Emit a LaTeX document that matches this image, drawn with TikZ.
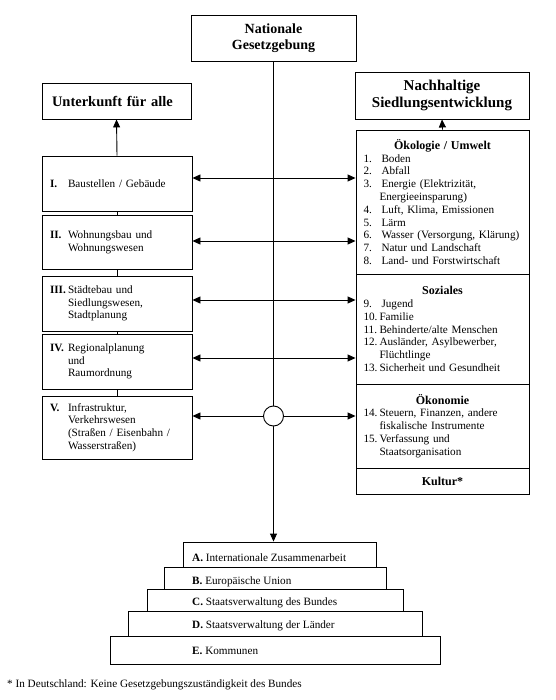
\documentclass[tikz,border=0pt]{standalone}
\usepackage{fontspec}
\setmainfont{Liberation Serif}
\usetikzlibrary{arrows.meta,calc}

\tikzset{
  kasten/.style={draw, line width=0.9pt, inner sep=0pt},
  titel/.style={font=\fontsize{14}{16.5}\selectfont\bfseries, align=center},
  linkskasten/.style={kasten, minimum width=150, text width=134, inner xsep=8, align=left},
  rechtskasten/.style={kasten, minimum width=173, text width=158, inner xsep=7.5, align=left},
  stufe/.style={kasten},
  pfeil/.style={line width=0.9pt, -{Triangle[length=8pt,width=7pt]}},
  doppelpfeil/.style={line width=0.9pt, {Triangle[length=8pt,width=7pt]}-{Triangle[length=8pt,width=7pt]}},
}
\newcommand{\rn}[1]{\makebox[18pt][l]{\textbf{#1}}}
\newcommand{\nr}[2]{\mbox{\makebox[18pt][l]{#1}#2}}
\newcommand{\nrr}[2]{\mbox{\makebox[16pt][l]{#1}#2}}
\newcommand{\kopf}[1]{\makebox[158pt][c]{\fontsize{12}{12.8}\selectfont\bfseries #1}}

\begin{document}
\begin{tikzpicture}[x=1pt, y=-1pt, font=\fontsize{11.2}{12.8}\selectfont]
    \useasboundingbox (0,0) rectangle (555,700);

    % Top box
    \node[kasten, titel, minimum width=165, minimum height=46] (natges) at (273.5,38) {Nationale\\Gesetzgebung};

    % Goals
    \node[kasten, titel, minimum width=149, minimum height=36, text width=129, inner xsep=10, align=left,
          font=\fontsize{14.5}{16.5}\selectfont\bfseries] (unterkunft) at (116.5,101) {Unterkunft für alle};
    \node[kasten, titel, minimum width=174, minimum height=47,
          font=\fontsize{15}{17}\selectfont\bfseries] (nachhaltig) at (442,95.5) {Nachhaltige\\Siedlungsentwicklung};

    % Left column
    \node[linkskasten, minimum height=55] (bI) at (117,183.5) {\rn{I.}Baustellen / Gebäude};
    \node[linkskasten, minimum height=54] (bII) at (117,242) {\rn{II.}Wohnungsbau und\\\hspace*{18pt}Wohnungswesen};
    \node[linkskasten, minimum height=55] (bIII) at (117,303.5) {\rn{III.}Städtebau und\\\hspace*{18pt}Siedlungswesen,\\\hspace*{18pt}Stadtplanung};
    \node[linkskasten, minimum height=55] (bIV) at (117,361.5) {\rn{IV.}Regionalplanung\\\hspace*{18pt}und\\\hspace*{18pt}Raumordnung};
    \node[linkskasten, minimum height=63] (bV) at (117,427.5) {\rn{V.}Infrastruktur,\\\hspace*{18pt}Verkehrswesen\\\hspace*{18pt}(Straßen / Eisenbahn /\\\hspace*{18pt}Wasserstraßen)};

    \draw[line width=0.9pt] (bI.south) -- (bII.north);
    \draw[line width=0.9pt] (bII.south) -- (bIII.north);
    \draw[line width=0.9pt] (bIII.south) -- (bIV.north);
    \draw[line width=0.9pt] (bIV.south) -- (bV.north);
    \draw[pfeil] (bI.north) -- (unterkunft.south);

    % Right column
    \node[rechtskasten, minimum height=144] (oeko) at (442.5,202) {\kopf{Ökologie / Umwelt}\\
        \nr{1.}{Boden}\\
        \nr{2.}{Abfall}\\
        \nr{3.}{Energie (Elektrizität,}\\
        \hspace*{16pt}Energieeinsparung)\\
        \nr{4.}{Luft, Klima, Emissionen}\\
        \nr{5.}{Lärm}\\
        \nr{6.}{Wasser (Versorgung, Klärung)}\\
        \nr{7.}{Natur und Landschaft}\\
        \nr{8.}{Land- und Forstwirtschaft}};
    \node[rechtskasten, minimum height=110] (soz) at (442.5,329) {\kopf{Soziales}\\
        \nr{9.}{Jugend}\\
        \nrr{10.}{Familie}\\
        \nrr{11.}{Behinderte/alte Menschen}\\
        \nrr{12.}{Ausländer, Asylbewerber,}\\
        \hspace*{16pt}Flüchtlinge\\
        \nrr{13.}{Sicherheit und Gesundheit}};
    \node[rechtskasten, minimum height=84] (oekon) at (442.5,426) {\kopf{Ökonomie}\\
        \nrr{14.}{Steuern, Finanzen, andere}\\
        \hspace*{16pt}fiskalische Instrumente\\
        \nrr{15.}{Verfassung und}\\
        \hspace*{16pt}Staatsorganisation};
    \node[rechtskasten, minimum height=26] (kultur) at (442.5,481) {\kopf{Kultur*}};

    \draw[pfeil] (oeko.north) -- (nachhaltig.south);

    % Cross links
    \coordinate (pI) at ([yshift=5.5pt]bI.east);
    \coordinate (pII) at ([yshift=1pt]bII.east);
    \coordinate (pIII) at ([yshift=3.5pt]bIII.east);
    \coordinate (pIV) at ([yshift=3.5pt]bIV.east);
    \coordinate (pV) at ([yshift=11.5pt]bV.east);

    \draw[doppelpfeil] (pI) -- (pI -| oeko.west);
    \draw[doppelpfeil] (pII) -- (pII -| oeko.west);
    \draw[doppelpfeil] (pIII) -- (pIII -| soz.west);
    \draw[doppelpfeil] (pIV) -- (pIV -| soz.west);
    \draw[doppelpfeil] (pV) -- (pV -| oekon.west);

    % Stairs
    \node[stufe, minimum width=330, minimum height=28] (stufeE) at (275,650) {};
    \node[stufe, minimum width=294, minimum height=25] (stufeD) at (275,623.5) {};
    \node[stufe, minimum width=256, minimum height=22] (stufeC) at (275,600) {};
    \node[stufe, minimum width=222, minimum height=22] (stufeB) at (275,578) {};
    \node[stufe, minimum width=193, minimum height=25] (stufeA) at (279.5,554.5) {};

    \node[anchor=west, inner sep=0pt] (labA) at (192,558) {\textbf{A.} Internationale Zusammenarbeit};
    \node[anchor=west, inner sep=0pt] (labB) at (192,582) {\textbf{B.} Europäische Union};
    \node[anchor=west, inner sep=0pt] (labC) at (192,603) {\textbf{C.} Staatsverwaltung des Bundes};
    \node[anchor=west, inner sep=0pt] (labD) at (192,626) {\textbf{D.} Staatsverwaltung der Länder};
    \node[anchor=west, inner sep=0pt] (labE) at (192,651) {\textbf{E.} Kommunen};

    % Central axis
    \draw[pfeil] (natges.south) -- (natges.south |- stufeA.north);
    \node[draw, circle, line width=0.9pt, fill=white, minimum size=20, inner sep=0pt] (kreis) at (pV -| natges.south) {};

    % Footnote
    \node[anchor=west, inner sep=0pt] (fussnote) at (7,685) {* In Deutschland: Keine Gesetzgebungszuständigkeit des Bundes};

\end{tikzpicture}
\end{document}
